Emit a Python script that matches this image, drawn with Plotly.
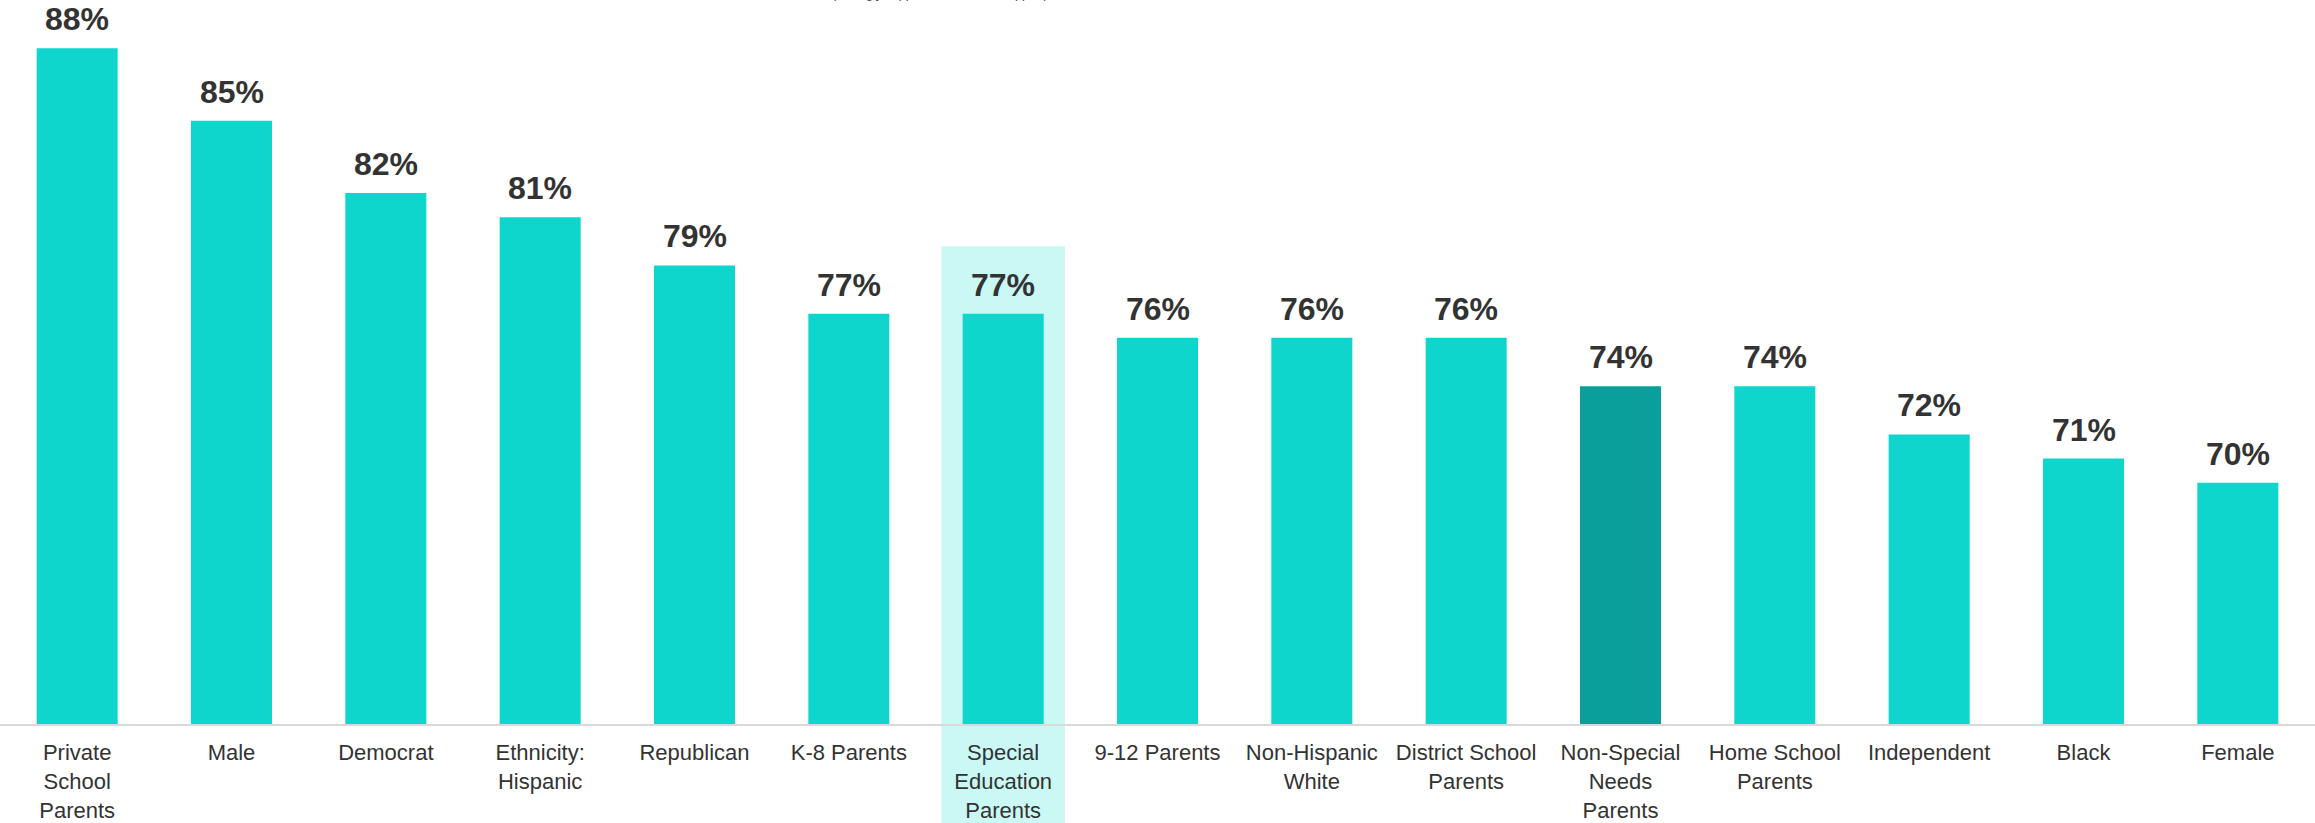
import plotly.graph_objects as go

categories = ["Private School Parents", "Male", "Democrat", "Ethnicity: Hispanic", "Republican",
              "K-8 Parents", "Special Education Parents", "9-12 Parents", "Non-Hispanic White",
              "District School Parents", "Non-Special Needs Parents", "Home School Parents",
              "Independent", "Black", "Female"]
tick_labels = ["Private<br>School<br>Parents", "Male", "Democrat", "Ethnicity:<br>Hispanic", "Republican",
               "K-8 Parents", "Special<br>Education<br>Parents", "9-12 Parents", "Non-Hispanic<br>White",
               "District School<br>Parents", "Non-Special<br>Needs<br>Parents", "Home School<br>Parents",
               "Independent", "Black", "Female"]
values = [88, 85, 82, 81, 79, 77, 77, 76, 76, 76, 74, 74, 72, 71, 70]
highlight_category = "Special Education Parents"
dark_category = "Non-Special Needs Parents"
subtitle = "(Strongly support + somewhat support)"

BASE = "#0FD6CC"
DARK = "#0B9F9B"
colors = [DARK if c == dark_category else BASE for c in categories]
FONT = "Arial, Liberation Sans, sans-serif"

fig = go.Figure(go.Bar(x=categories, y=values, marker=dict(color=colors, line=dict(width=0)),
                       width=0.525, hoverinfo="skip"))

for c, v in zip(categories, values):
    fig.add_annotation(x=c, y=v, text=f"<b>{v}%</b>", showarrow=False, yanchor="bottom",
                       yshift=9, font=dict(family=FONT, size=32, color="#333333"))

# highlight band behind the Special Education category
n = len(categories)
hi = categories.index(highlight_category)
ymin, ymax = 60, 90
fig.add_shape(type="rect", xref="x domain", yref="paper",
              x0=(hi + 0.5 - 0.4) / n, x1=(hi + 0.5 + 0.4) / n,
              y0=-0.2, y1=(79.8 - ymin) / (ymax - ymin),
              fillcolor="#C9F8F5", line=dict(width=0), layer="below")

fig.add_annotation(xref="paper", yref="paper", x=0.406, y=1, yanchor="bottom", yshift=-3,
                   text=subtitle, showarrow=False, font=dict(family=FONT, size=12.5, color="#404040"))

fig.update_layout(
    width=2315, height=823,
    margin=dict(l=0, r=0, t=0, b=99),
    plot_bgcolor="rgba(0,0,0,0)", paper_bgcolor="white",
    showlegend=False,
    xaxis=dict(tickmode="array", tickvals=categories, ticktext=tick_labels,
               tickfont=dict(family=FONT, size=22, color="#333333"),
               showline=True, linecolor="#D9D9D9", linewidth=2, ticks="", showgrid=False,
               range=[-0.5, n - 0.5], automargin=False, ticklabelstandoff=8),
    yaxis=dict(range=[ymin, ymax], visible=False, showgrid=False, zeroline=False,
               automargin=False),
)

fig.write_html("out.html", config={"displayModeBar": False},
               post_script="document.body.style.margin='0';document.body.style.overflow='hidden';")
